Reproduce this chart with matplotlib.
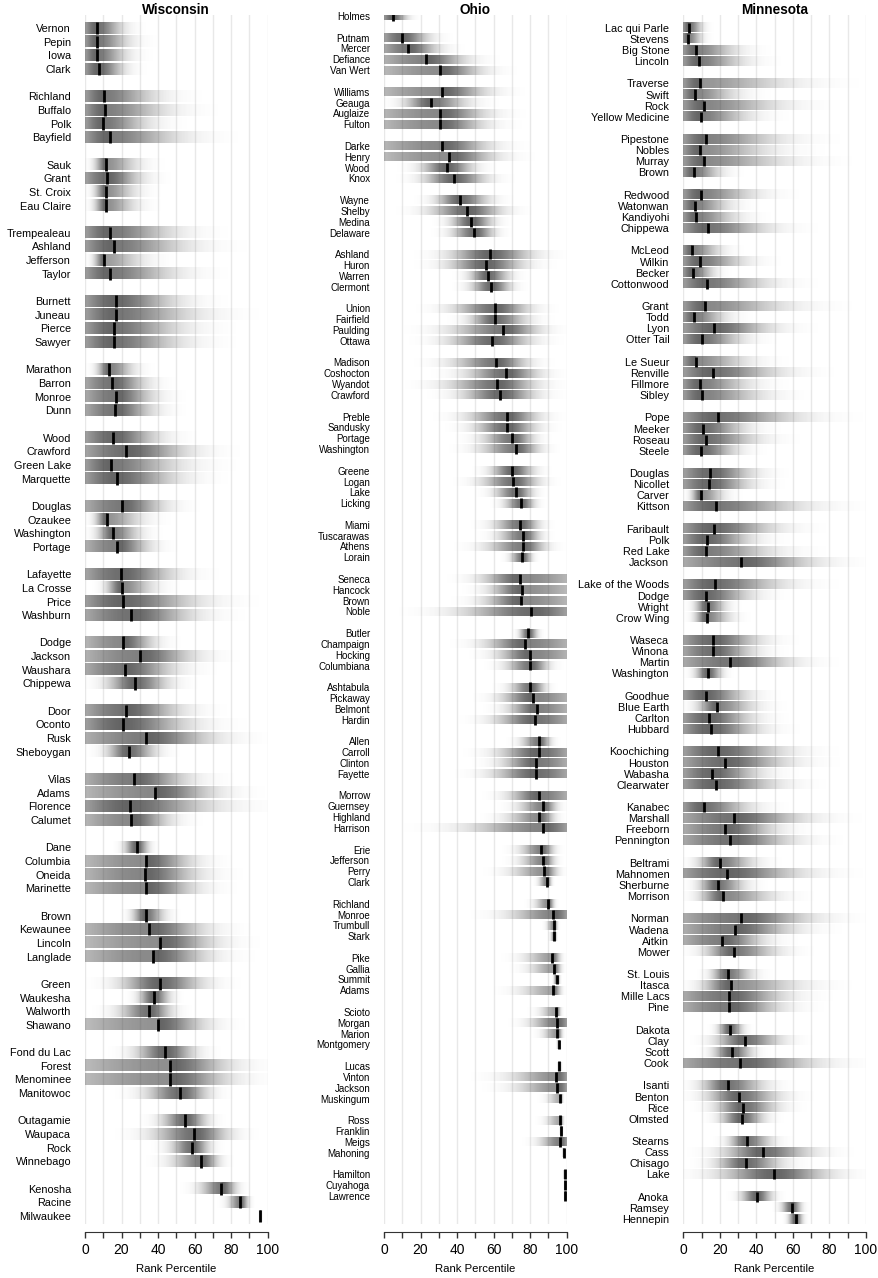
import matplotlib.pyplot as plt
import numpy as np
from matplotlib import font_manager

plt.rcParams['font.family'] = ['Liberation Sans', 'DejaVu Sans']

# Wisconsin: median rank percentile and visible extent of the shading
wi_names = ['Vernon', 'Pepin', 'Iowa', 'Clark',
            'Richland', 'Buffalo', 'Polk', 'Bayfield',
            'Sauk', 'Grant', 'St. Croix', 'Eau Claire',
            'Trempealeau', 'Ashland', 'Jefferson', 'Taylor',
            'Burnett', 'Juneau', 'Pierce', 'Sawyer',
            'Marathon', 'Barron', 'Monroe', 'Dunn',
            'Wood', 'Crawford', 'Green Lake', 'Marquette',
            'Douglas', 'Ozaukee', 'Washington', 'Portage',
            'Lafayette', 'La Crosse', 'Price', 'Washburn',
            'Dodge', 'Jackson', 'Waushara', 'Chippewa',
            'Door', 'Oconto', 'Rusk', 'Sheboygan',
            'Vilas', 'Adams', 'Florence', 'Calumet',
            'Dane', 'Columbia', 'Oneida', 'Marinette',
            'Brown', 'Kewaunee', 'Lincoln', 'Langlade',
            'Green', 'Waukesha', 'Walworth', 'Shawano',
            'Fond du Lac', 'Forest', 'Menominee', 'Manitowoc',
            'Outagamie', 'Waupaca', 'Rock', 'Winnebago',
            'Kenosha', 'Racine', 'Milwaukee']
wi_med = [6.6, 6.8, 6.6, 7.5,
          10.6, 11.2, 10.1, 13.7,
          11.7, 12.1, 11.5, 11.5,
          13.7, 15.6, 10.6, 13.7,
          17.0, 17.2, 15.9, 15.8,
          13.4, 14.7, 16.8, 16.3,
          15.4, 22.7, 14.5, 17.4,
          20.0, 12.1, 15.4, 17.6,
          19.8, 20.0, 21.0, 25.0,
          20.7, 29.9, 22.0, 27.5,
          22.2, 20.7, 33.3, 24.0,
          26.7, 38.3, 24.4, 25.3,
          28.2, 33.3, 32.6, 33.3,
          33.2, 35.3, 41.0, 37.4,
          40.8, 37.5, 34.8, 40.1,
          44.0, 46.5, 46.3, 51.8,
          54.8, 59.7, 58.4, 63.4,
          74.7, 85.0, 96.0]
wi_lo = [0, 0, 0, 0,
         0, 0, 0, 0,
         1, 0, 1, 1,
         0, 0, 1, 0,
         0, 0, 0, 0,
         2, 0, 0, 0,
         0, 0, 0, 0,
         0, 1, 1, 0,
         0, 6, 0, 0,
         0, 0, 0, 2,
         0, 0, 0, 4,
         0, 0, 0, 0,
         17, 0, 0, 0,
         21, 0, 0, 0,
         6, 24, 8, 0,
         17, 0, 0, 21,
         33, 22, 39, 37,
         55, 74, 95]
wi_hi = [30, 35, 33, 30,
         57, 65, 50, 75,
         40, 42, 38, 38,
         70, 79, 45, 70,
         70, 85, 74, 74,
         35, 45, 50, 50,
         55, 76, 74, 70,
         57, 43, 39, 46,
         66, 48, 85, 79,
         48, 77, 65, 57,
         70, 79, 92, 48,
         74, 90, 97, 59,
         39, 74, 79, 76,
         50, 83, 88, 85,
         79, 52, 55, 81,
         70, 98, 98, 77,
         74, 90, 74, 79,
         88, 92, 97]
wi_groups = [4] * 17 + [3]

# Ohio
oh_names = ['Holmes',
            'Putnam', 'Mercer', 'Defiance', 'Van Wert',
            'Williams', 'Geauga', 'Auglaize', 'Fulton',
            'Darke', 'Henry', 'Wood', 'Knox',
            'Wayne', 'Shelby', 'Medina', 'Delaware',
            'Ashland', 'Huron', 'Warren', 'Clermont',
            'Union', 'Fairfield', 'Paulding', 'Ottawa',
            'Madison', 'Coshocton', 'Wyandot', 'Crawford',
            'Preble', 'Sandusky', 'Portage', 'Washington',
            'Greene', 'Logan', 'Lake', 'Licking',
            'Miami', 'Tuscarawas', 'Athens', 'Lorain',
            'Seneca', 'Hancock', 'Brown', 'Noble',
            'Butler', 'Champaign', 'Hocking', 'Columbiana',
            'Ashtabula', 'Pickaway', 'Belmont', 'Hardin',
            'Allen', 'Carroll', 'Clinton', 'Fayette',
            'Morrow', 'Guernsey', 'Highland', 'Harrison',
            'Erie', 'Jefferson', 'Perry', 'Clark',
            'Richland', 'Monroe', 'Trumbull', 'Stark',
            'Pike', 'Gallia', 'Summit', 'Adams',
            'Scioto', 'Morgan', 'Marion', 'Montgomery',
            'Lucas', 'Vinton', 'Jackson', 'Muskingum',
            'Ross', 'Franklin', 'Meigs', 'Mahoning',
            'Hamilton', 'Cuyahoga', 'Lawrence']
oh_med = [4.7,
          9.9, 13.3, 23.0, 30.7,
          31.8, 25.7, 30.5, 30.5,
          31.6, 35.4, 34.5, 38.3,
          41.8, 45.6, 47.8, 49.5,
          58.0, 55.8, 56.8, 58.8,
          60.6, 61.0, 65.3, 59.1,
          61.3, 66.6, 62.0, 63.5,
          67.2, 67.2, 70.0, 72.0,
          70.3, 70.8, 72.0, 75.0,
          74.5, 76.0, 76.0, 75.7,
          74.6, 75.4, 75.0, 80.5,
          79.0, 77.4, 80.1, 80.1,
          80.1, 81.4, 83.6, 82.7,
          84.7, 84.7, 83.4, 83.4,
          84.9, 86.9, 84.9, 86.9,
          86.1, 86.9, 87.6, 89.0,
          89.8, 92.5, 92.9, 93.2,
          92.0, 92.9, 94.5, 92.5,
          94.2, 94.5, 94.7, 95.8,
          96.0, 94.0, 94.7, 96.5,
          96.4, 97.0, 96.2, 98.4,
          98.9, 99.3, 99.3]
oh_lo = [0,
         0, 0, 0, 0,
         0, 2, 0, 0,
         0, 0, 11, 11,
         20, 12, 29, 29,
         22, 22, 40, 40,
         23, 38, 18, 20,
         22, 31, 18, 29,
         32, 38, 43, 40,
         51, 42, 53, 60,
         51, 54, 43, 65,
         40, 47, 42, 18,
         71, 42, 51, 58,
         62, 53, 58, 47,
         69, 49, 53, 45,
         58, 65, 56, 20,
         67, 67, 58, 82,
         78, 53, 87, 90,
         67, 71, 92, 63,
         80, 71, 82, 94,
         94.5, 53, 58, 85,
         84, 96, 78, 97.5,
         98.5, 99, 99]
oh_hi = [18,
         34, 40, 58, 67,
         71, 58, 71, 69,
         73, 76, 58, 67,
         67, 76, 67, 67,
         95, 89, 76, 76,
         91, 89, 97, 93,
         89, 96, 96, 95,
         95, 93, 89, 93,
         89, 93, 87, 87,
         91, 91, 96, 84,
         100, 100, 100, 100,
         87, 100, 100, 96,
         93, 100, 100, 100,
         95, 100, 100, 100,
         100, 99, 98, 100,
         97, 97, 99, 93,
         95, 100, 96, 95,
         99, 99, 97, 99,
         98, 100, 99, 97,
         97.5, 100, 100, 98.5,
         99, 98, 100, 99,
         99.3, 99.7, 99.7]
oh_groups = [1] + [4] * 21 + [3]

# Minnesota
mn_names = ['Lac qui Parle', 'Stevens', 'Big Stone', 'Lincoln',
            'Traverse', 'Swift', 'Rock', 'Yellow Medicine',
            'Pipestone', 'Nobles', 'Murray', 'Brown',
            'Redwood', 'Watonwan', 'Kandiyohi', 'Chippewa',
            'McLeod', 'Wilkin', 'Becker', 'Cottonwood',
            'Grant', 'Todd', 'Lyon', 'Otter Tail',
            'Le Sueur', 'Renville', 'Fillmore', 'Sibley',
            'Pope', 'Meeker', 'Roseau', 'Steele',
            'Douglas', 'Nicollet', 'Carver', 'Kittson',
            'Faribault', 'Polk', 'Red Lake', 'Jackson',
            'Lake of the Woods', 'Dodge', 'Wright', 'Crow Wing',
            'Waseca', 'Winona', 'Martin', 'Washington',
            'Goodhue', 'Blue Earth', 'Carlton', 'Hubbard',
            'Koochiching', 'Houston', 'Wabasha', 'Clearwater',
            'Kanabec', 'Marshall', 'Freeborn', 'Pennington',
            'Beltrami', 'Mahnomen', 'Sherburne', 'Morrison',
            'Norman', 'Wadena', 'Aitkin', 'Mower',
            'St. Louis', 'Itasca', 'Mille Lacs', 'Pine',
            'Dakota', 'Clay', 'Scott', 'Cook',
            'Isanti', 'Benton', 'Rice', 'Olmsted',
            'Stearns', 'Cass', 'Chisago', 'Lake',
            'Anoka', 'Ramsey', 'Hennepin']
mn_med = [3.3, 2.7, 7.1, 8.8,
          9.3, 6.6, 11.5, 9.5,
          12.6, 9.3, 11.5, 5.7,
          9.5, 6.2, 7.1, 13.6,
          4.9, 9.2, 5.1, 13.0,
          11.9, 6.0, 17.0, 10.0,
          7.1, 16.3, 9.3, 10.4,
          18.9, 11.0, 12.5, 9.9,
          14.8, 13.9, 9.9, 17.8,
          17.0, 13.0, 12.6, 31.7,
          17.2, 12.6, 13.3, 13.0,
          16.3, 16.1, 25.6, 13.7,
          12.3, 18.5, 13.9, 15.0,
          19.2, 22.7, 15.8, 17.8,
          11.2, 27.7, 23.0, 25.5,
          20.1, 24.0, 19.0, 22.0,
          31.5, 28.4, 21.4, 27.7,
          24.4, 26.0, 24.9, 25.1,
          25.6, 33.5, 26.6, 31.3,
          24.4, 30.4, 32.8, 31.9,
          34.8, 43.6, 34.4, 49.8,
          40.3, 59.5, 61.5]
mn_lo = [0, 0, 0, 0,
         0, 0, 0, 0,
         0, 0, 0, 0,
         0, 0, 0, 0,
         0, 0, 0, 0,
         0, 0, 0, 0,
         0, 0, 0, 0,
         0, 0, 0, 0,
         0, 0, 1, 0,
         0, 0, 0, 0,
         0, 0, 2, 2,
         0, 0, 0, 2,
         0, 1, 0, 0,
         0, 0, 0, 0,
         0, 0, 0, 0,
         1, 0, 2, 1,
         0, 0, 0, 2,
         10, 1, 0, 0,
         15, 8, 10, 0,
         1, 2, 8, 13,
         19, 8, 8, 1,
         26, 50, 55]
mn_hi = [15, 15, 43, 48,
         87, 43, 77, 52,
         77, 70, 83, 30,
         57, 37, 43, 66,
         30, 48, 24, 66,
         83, 34, 66, 46,
         52, 74, 52, 63,
         88, 48, 57, 41,
         52, 50, 30, 92,
         70, 52, 70, 94,
         76, 52, 30, 34,
         57, 52, 77, 26,
         48, 52, 52, 57,
         76, 77, 57, 70,
         52, 88, 66, 79,
         50, 88, 43, 66,
         92, 79, 57, 66,
         46, 85, 74, 70,
         37, 66, 45, 96,
         57, 66, 63, 52,
         57, 87, 66, 98,
         54, 68, 68]
mn_groups = [4] * 21 + [3]

# Ohio labels are set in a narrow face in the original
installed = {f.name for f in font_manager.fontManager.ttflist}
if 'Liberation Sans Narrow' in installed:
    oh_font, oh_fs = ['Liberation Sans Narrow', 'Liberation Sans'], 8.0
else:
    oh_font, oh_fs = ['Liberation Sans', 'DejaVu Sans'], 7.0

W, H = 879, 1278
fig = plt.figure(figsize=(W / 100, H / 100), dpi=100)

ax_top, ax_bot, ax_w = 15.0, 1224.0, 182.7
bar_h = 0.82
xs = np.linspace(0, 100, 801)


def shade(med, lo, hi):
    # split gaussian; intervals touching the edge keep their mass at the edge
    sl = med if lo <= 0 else (med - lo) / 2.8
    sr = (100 - med) if hi >= 100 else (hi - med) / 2.8
    sl, sr = max(sl, 0.4), max(sr, 0.4)
    smin = min(sl, sr)
    d = xs - med
    left = (smin / sl) ** 0.35 * np.exp(-0.5 * (d / sl) ** 2)
    right = (smin / sr) ** 0.35 * np.exp(-0.5 * (d / sr) ** 2)
    return np.where(d < 0, left, right)


panels = [
    ('Wisconsin', wi_names, wi_med, wi_lo, wi_hi, wi_groups, 85.0, 28.0, 1216.0,
     ['Liberation Sans', 'DejaVu Sans'], 7.8),
    ('Ohio', oh_names, oh_med, oh_lo, oh_hi, oh_groups, 384.0, 16.0, 1196.0,
     oh_font, oh_fs),
    ('Minnesota', mn_names, mn_med, mn_lo, mn_hi, mn_groups, 683.3, 27.7, 1219.0,
     ['Liberation Sans', 'DejaVu Sans'], 7.8),
]

for title, names, med, lo, hi, groups, x0, p0, p1, family, fs in panels:
    ax = fig.add_axes([x0 / W, 1 - ax_bot / H, ax_w / W, (ax_bot - ax_top) / H])

    pos = []
    start = 0
    for k in groups:
        pos += [start + j for j in range(k)]
        start += k + 1
    n_units = pos[-1]

    for y, m, l, h in zip(pos, med, lo, hi):
        w = shade(m, l, h)
        rgba = np.zeros((1, len(xs), 4))
        rgba[..., :3] = 0.22
        rgba[..., 3] = 0.78 * w
        ax.imshow(rgba, extent=(0, 100, y + bar_h / 2, y - bar_h / 2),
                  aspect='auto', interpolation='bilinear', zorder=2)
        ax.vlines(m, y - bar_h / 2 - 0.04, y + bar_h / 2 + 0.04, color='black', lw=2, zorder=3)

    # map first / last row onto their pixel rows
    s = (p1 - p0) / n_units
    ytop = -(p0 - ax_top) / s
    ax.set_ylim(ytop + (ax_bot - ax_top) / s, ytop)
    ax.set_xlim(0, 100)

    ax.set_yticks(pos)
    ax.set_yticklabels(names, fontsize=fs, family=family)
    ax.tick_params(axis='y', length=0, pad=10)

    ax.set_xticks(range(0, 101, 10))
    ax.set_xticklabels([str(v) if v % 20 == 0 else '' for v in range(0, 101, 10)], fontsize=9)
    ax.tick_params(axis='x', length=4.5, width=1, color='#333333', pad=3.5)
    ax.grid(axis='x', color='#e8e8e8', lw=1)
    ax.set_axisbelow(True)

    for side in ['left', 'right', 'top']:
        ax.spines[side].set_visible(False)
    ax.spines['bottom'].set_position(('outward', 6))
    ax.spines['bottom'].set_bounds(0, 100)
    ax.spines['bottom'].set_color('#333333')

    ax.set_xlabel('Rank Percentile', fontsize=8.2, labelpad=5)
    fig.text((x0 + ax_w / 2) / W, 1 - 9.5 / H, title, ha='center', va='center',
             fontsize=9.8, fontweight='bold')

fig.savefig('out.png', dpi=100)
